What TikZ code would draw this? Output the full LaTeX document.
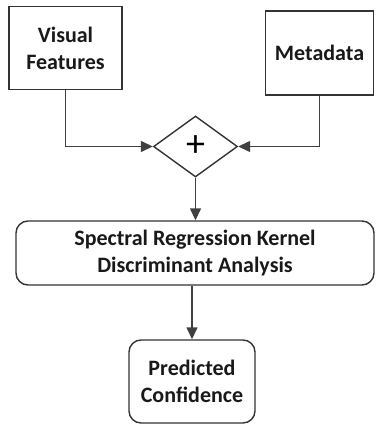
\documentclass[tikz,border=0pt]{standalone}
\usepackage{fontspec}
\setmainfont{Carlito}
\usetikzlibrary{shapes.geometric,arrows.meta}
\begin{document}
\begin{tikzpicture}[x=1pt,y=-1pt,
  box/.style={draw=black!80, line width=1.4pt, align=center, font=\fontsize{22}{27}\selectfont\bfseries, text=black!90, inner sep=0pt},
  conn/.style={draw=black!75, line width=1.4pt, -{Triangle[length=12pt,width=11pt]}}]
\useasboundingbox (0,0) rectangle (375,425);
\node[box, minimum width=113pt, minimum height=83pt] (vf) at (65.5,48) {Visual\\Features};
\node[box, minimum width=108pt, minimum height=84pt] (md) at (319.5,53) {Metadata};
\node[draw=black!80, line width=1.4pt, diamond, minimum width=84pt, minimum height=61pt, inner sep=0pt, font=\fontsize{38}{38}\selectfont] (pl) at (195.5,146.5) {+};
\node[box, rounded corners=12pt, minimum width=358pt, minimum height=64pt] (sr) at (195,253) {Spectral Regression Kernel\\Discriminant Analysis};
\node[box, rounded corners=12pt, minimum width=126pt, minimum height=83pt] (pc) at (192,381.5) {Predicted\\Confidence};
\draw[conn] (vf.south) |- (pl.west);
\draw[conn] (md.south) |- (pl.east);
\draw[conn] (pl.south) -- (sr.north -| pl.south);
\draw[conn] (sr.south -| pc.north) -- (pc.north);
\end{tikzpicture}
\end{document}
